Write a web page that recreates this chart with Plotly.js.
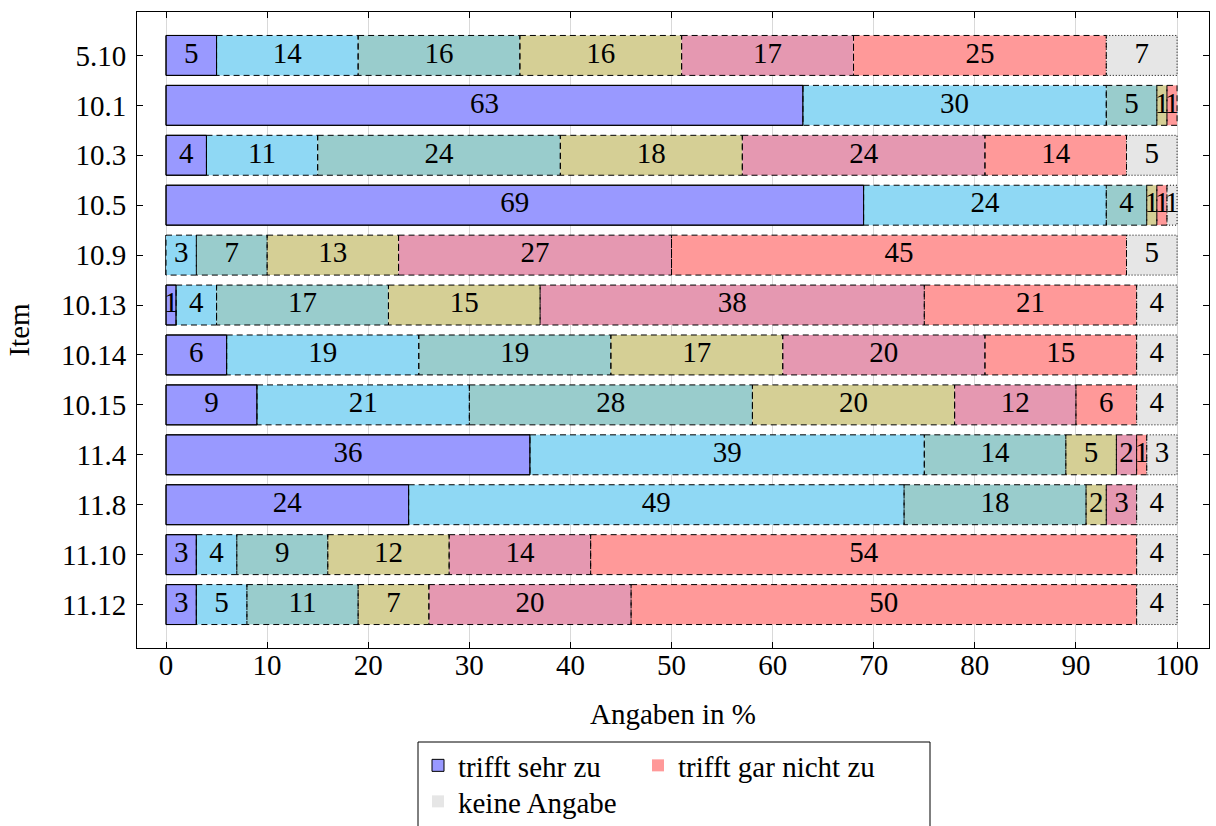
<!DOCTYPE html>
<html>
<head>
<meta charset="utf-8">
<script src="https://cdn.plot.ly/plotly-3.0.1.min.js"></script>
<style>html,body{margin:0;padding:0;background:#fff;}#chart{width:1216px;height:826px;}</style>
</head>
<body>
<div id="chart"></div>
<script>
const items = ["5.10","10.1","10.3","10.5","10.9","10.13","10.14","10.15","11.4","11.8","11.10","11.12"];
const seriesNames = ["trifft sehr zu","s2","s3","s4","s5","trifft gar nicht zu","keine Angabe"];
const s1 = [5,63,4,69,0,1,6,9,36,24,3,3];
const s2 = [14,30,11,24,3,4,19,21,39,49,4,5];
const s3 = [16,5,24,4,7,17,19,28,14,18,9,11];
const s4 = [16,1,18,1,13,15,17,20,5,2,12,7];
const s5 = [17,0,24,0,27,38,20,12,2,3,14,20];
const s6 = [25,1,14,1,45,21,15,6,1,0,54,50];
const s7 = [7,0,5,1,5,4,4,4,3,4,4,4];
const xTicks = [0,10,20,30,40,50,60,70,80,90,100];

const allSeries = [s1,s2,s3,s4,s5,s6,s7];
const colors = ["#9999ff","#8fd8f4","#99cccc","#d5cf95","#e598b1","#ff9999","#e6e6e6"];
const dashes = ["solid","6px,4px","6px,4px","6px,4px","6px,4px","6px,4px","1px,2px"];
const legendOf = [ "legend", null, null, null, null, "legend2", "legend3" ];
const FONT = "Liberation Serif";
const FS = 29;

const traces = [];
const shapes = [];
const tx = [], ty = [], tt = [];
const cum = items.map(() => 0);
allSeries.forEach((vals, s) => {
  traces.push({
    type: "bar", orientation: "h",
    x: vals, y: items, base: cum.slice(),
    width: 0.8,
    name: seriesNames[s],
    marker: {color: colors[s], line: {color: "#000", width: s === 0 ? 1 : 0}},
    showlegend: legendOf[s] !== null,
    legend: legendOf[s] || "legend",
    hoverinfo: "x+y+name"
  });
  vals.forEach((v, i) => {
    if (v > 0) {
      shapes.push({type: "rect", xref: "x", yref: "y",
        x0: cum[i], x1: cum[i] + v, y0: i - 0.4, y1: i + 0.4,
        line: {color: "#000", width: 1, dash: dashes[s]}, fillcolor: "rgba(0,0,0,0)", layer: "above"});
      tx.push(cum[i] + v / 2); ty.push(items[i]); tt.push(String(v));
    }
    cum[i] += v;
  });
});
traces.push({type: "scatter", mode: "text", x: tx, y: ty, text: tt,
  textfont: {family: FONT, size: FS, color: "#000"}, textposition: "middle center",
  showlegend: false, hoverinfo: "skip", cliponaxis: false});

// legend frame
shapes.push({type: "rect", xref: "paper", yref: "paper",
  x0: (418 - 137) / 1072, x1: (930 - 137) / 1072, y0: (648 - 742) / 636, y1: (648 - 840) / 636,
  line: {color: "#000", width: 1}, fillcolor: "rgba(0,0,0,0)"});

const legBase = {orientation: "h", xanchor: "left", yanchor: "top", yref: "container",
  bgcolor: "rgba(0,0,0,0)", borderwidth: 0, font: {family: FONT, size: FS, color: "#000"}, itemwidth: 30};
const layout = {
  width: 1216, height: 826,
  margin: {l: 137, r: 7, t: 12, b: 178, autoexpand: false},
  paper_bgcolor: "#fff", plot_bgcolor: "#fff",
  font: {family: FONT, size: FS, color: "#000"},
  barmode: "overlay",
  xaxis: {range: [-2.87, 103.16], tickvals: xTicks, ticktext: xTicks.map(String), automargin: false,
    showgrid: true, gridcolor: "#d9d9d9", gridwidth: 1, zeroline: false,
    showline: true, linecolor: "#000", linewidth: 1, mirror: "ticks",
    ticks: "inside", ticklen: 6, tickcolor: "#000", ticklabelstandoff: -9,
    tickfont: {family: FONT, size: FS, color: "#000"},
    title: {text: "Angaben in %", font: {family: FONT, size: FS, color: "#000"}, standoff: 23}},
  yaxis: {type: "category", range: [11.87, -0.87], showgrid: false, zeroline: false, automargin: false,
    showline: true, linecolor: "#000", linewidth: 1, mirror: "ticks",
    ticks: "inside", ticklen: 6, tickcolor: "#000", ticklabelstandoff: 4,
    tickfont: {family: FONT, size: FS, color: "#000"},
    title: {text: "Item", font: {family: FONT, size: FS, color: "#000"}, standoff: 22}},
  legend: Object.assign({}, legBase, {x: (418 - 137) / 1072, y: 1 - 740 / 826}),
  legend2: Object.assign({}, legBase, {x: (638 - 137) / 1072, y: 1 - 740 / 826}),
  legend3: Object.assign({}, legBase, {x: (418 - 137) / 1072, y: 1 - 776 / 826}),
  shapes: shapes,
  showlegend: true
};
Plotly.newPlot("chart", traces, layout, {displayModeBar: false, staticPlot: true});
</script>
</body>
</html>
